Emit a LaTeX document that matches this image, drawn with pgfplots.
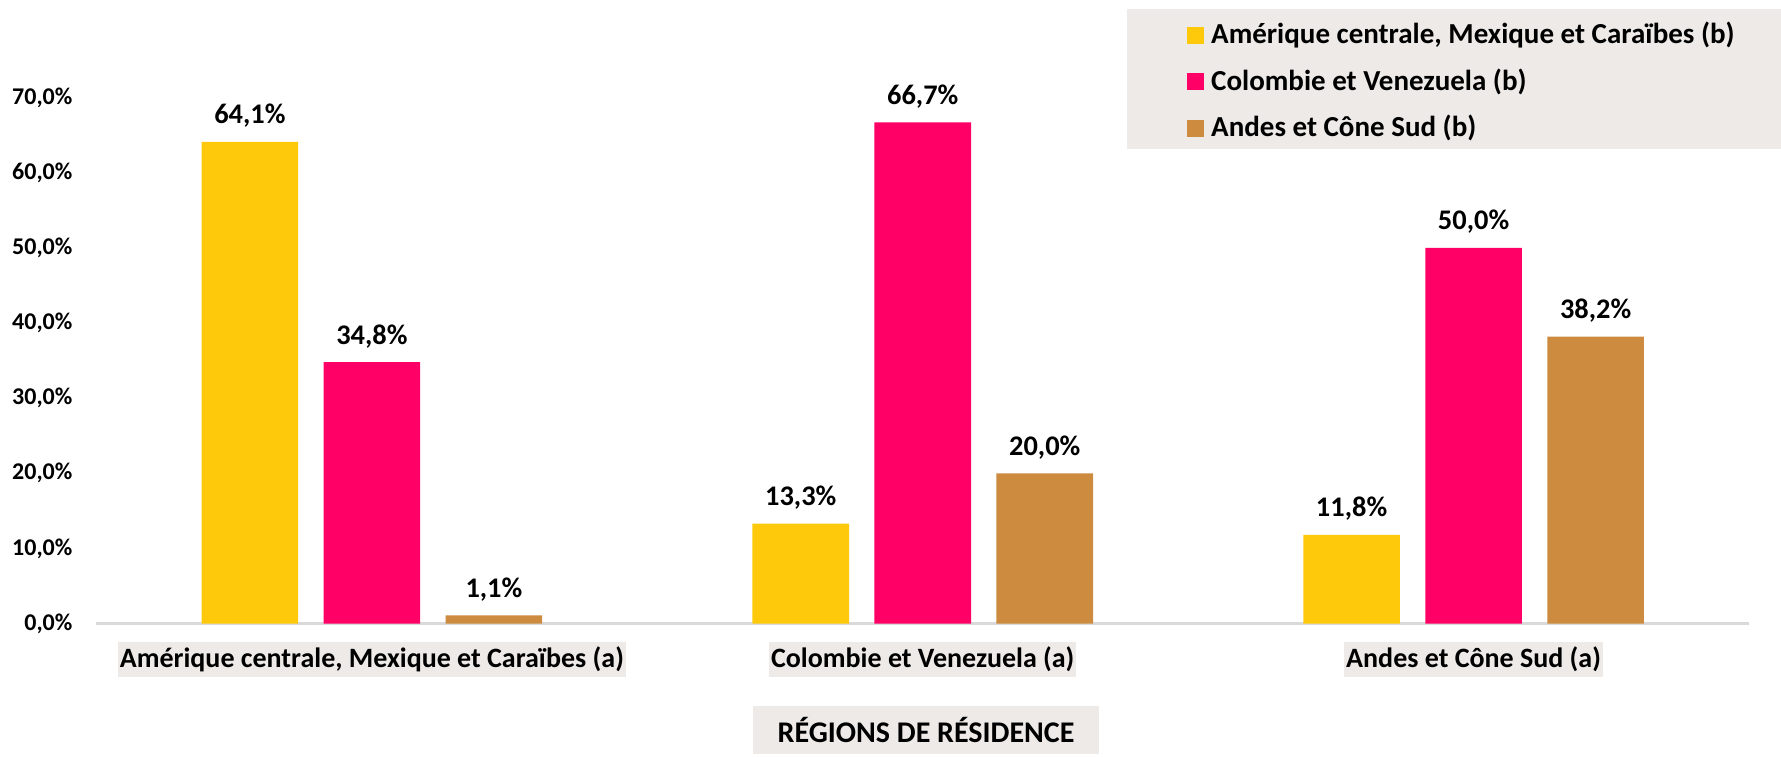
\documentclass[border=0pt]{standalone}
\usepackage{pgfplots}
\pgfplotsset{compat=1.18}
\usepackage{fontspec}
\setmainfont{Carlito}
\definecolor{cyel}{HTML}{FFC90B}
\definecolor{cpink}{HTML}{FF0066}
\definecolor{cbrown}{HTML}{CD8B40}
\definecolor{cbg}{HTML}{EDEAE7}
\definecolor{caxis}{HTML}{D9D9D9}
\begin{document}
\begin{tikzpicture}
\fill[cbg] (563.5pt,303.5pt) rectangle (890.5pt,373.5pt);
\begin{axis}[
  at={(48.25pt,66.2pt)}, anchor=south west, scale only axis,
  width=826.25pt, height=263pt,
  xmin=-0.5, xmax=2.5, ymin=0, ymax=70,
  /pgf/number format/assume math mode=true,
  ybar, bar width=48.3pt,
  axis x line*=bottom, axis y line*=left,
  x axis line style={caxis, line width=1.2pt},
  y axis line style={draw=none},
  major tick length=0pt,
  xtick={0,1,2},
  xticklabels={Amérique centrale{,} Mexique et Caraïbes (a), Colombie et Venezuela (a), Andes et Cône Sud (a)},
  xticklabel style={fill=cbg, font=\bfseries\fontsize{14}{16}\selectfont, text height=11pt, text depth=3pt, inner xsep=1pt, inner ysep=1.7pt, anchor=center, yshift=-18.05pt},
  ytick={0,10,...,70},
  yticklabel={\pgfmathprintnumber[fixed,fixed zerofill,precision=1,use comma]{\tick}\%},
  yticklabel style={font=\bfseries\fontsize{12}{14}\selectfont, anchor=east, inner sep=0pt, xshift=-11.85pt},
  xlabel={RÉGIONS DE RÉSIDENCE},
  xlabel style={at={(0.502,-0.2023)}, anchor=center, fill=cbg, minimum width=173pt, minimum height=24pt, font=\bfseries\fontsize{15}{17}\selectfont},
  nodes near coords={\pgfmathprintnumber[fixed,fixed zerofill,precision=1,use comma]{\pgfplotspointmeta}\%},
  every node near coord/.append style={font=\bfseries\fontsize{14.2}{16}\selectfont, black, anchor=base, inner sep=0pt, yshift=9pt},
  legend style={at={(0.6599,1.1414)}, anchor=north west, draw=none, fill=none, inner sep=0pt,
    font=\bfseries\fontsize{14.5}{17}\selectfont, row sep=9.75pt,
    nodes={inner sep=0pt, text height=10pt, text depth=3.5pt},
    /tikz/every odd column/.append style={column sep=3.4pt}},
  legend cell align=left,
  legend image code/.code={\fill (0pt,-3.4pt) rectangle (8.5pt,5.1pt);},
  clip=false,
]
\addplot[draw=none, fill=cyel, bar shift=-61pt] coordinates {(0,64.1) (1,13.3) (2,11.8)};
\addplot[draw=none, fill=cpink, bar shift=0pt] coordinates {(0,34.8) (1,66.7) (2,50.0)};
\addplot[draw=none, fill=cbrown, bar shift=61pt] coordinates {(0,1.1) (1,20.0) (2,38.2)};
\legend{Amérique centrale{,} Mexique et Caraïbes (b), Colombie et Venezuela (b), Andes et Cône Sud (b)}
\end{axis}
\pgfresetboundingbox
\path[use as bounding box] (0,0) rectangle (890.5pt,378pt);
\end{tikzpicture}
\end{document}
